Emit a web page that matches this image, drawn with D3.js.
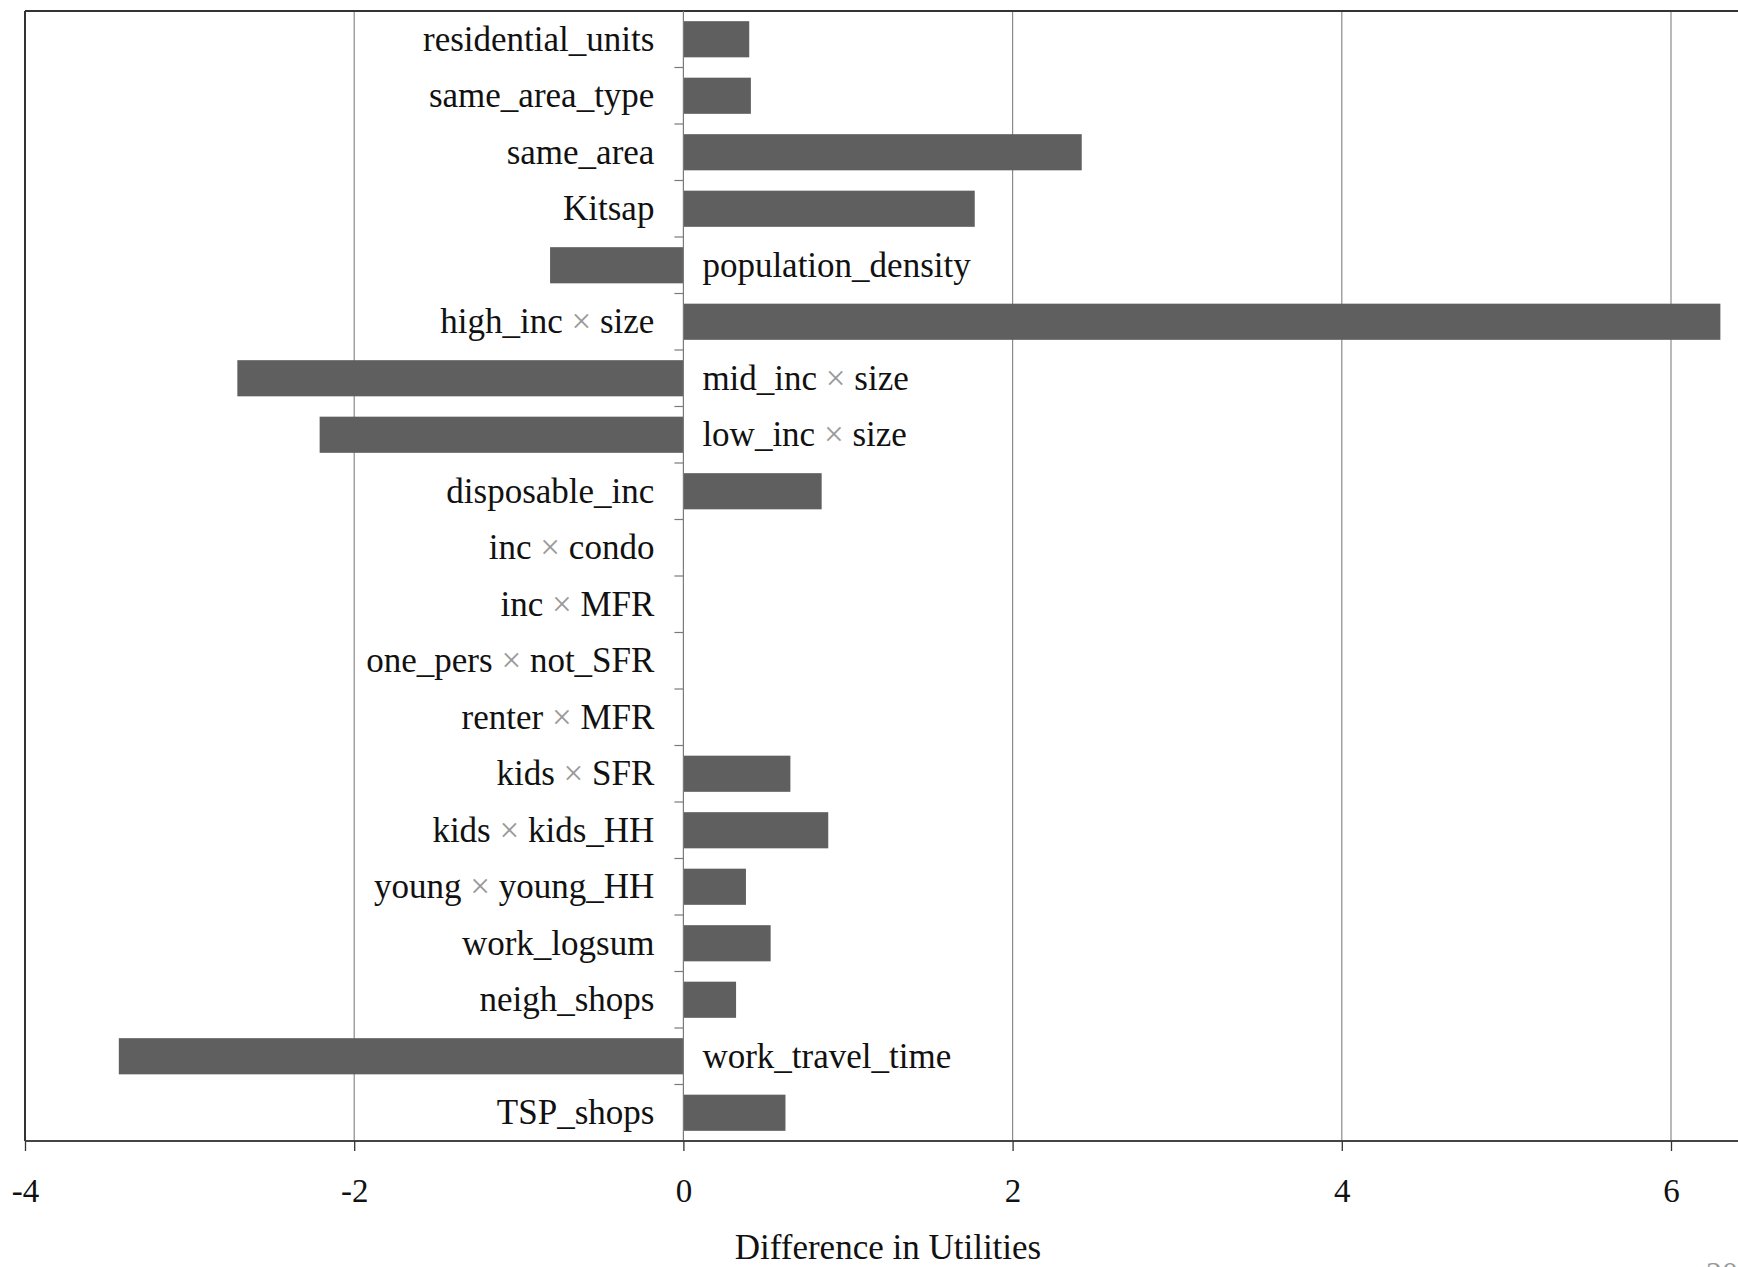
<!DOCTYPE html>
<html>
<head>
<meta charset="utf-8">
<script src="https://cdn.jsdelivr.net/npm/d3@7"></script>
<style>
  html, body { margin: 0; padding: 0; background: #fff; }
  svg { display: block; }
  text { font-family: "Liberation Serif", "Times New Roman", serif; }
</style>
</head>
<body>
<svg id="chart" width="1738" height="1267"></svg>
<script>
const categories = [
  "residential_units", "same_area_type", "same_area", "Kitsap", "population_density",
  "high_inc × size", "mid_inc × size", "low_inc × size", "disposable_inc", "inc × condo",
  "inc × MFR", "one_pers × not_SFR", "renter × MFR", "kids × SFR", "kids × kids_HH",
  "young × young_HH", "work_logsum", "neigh_shops", "work_travel_time", "TSP_shops"
];
const values = [
  0.40, 0.41, 2.42, 1.77, -0.81,
  6.30, -2.71, -2.21, 0.84, 0,
  0, 0, 0, 0.65, 0.88,
  0.38, 0.53, 0.32, -3.43, 0.62
];
const xTicks = [-4, -2, 0, 2, 4, 6];
const xTitle = "Difference in Utilities";
const pageNumber = "20";

(function draw() {
const svg = d3.select("#chart");
const mLeft = 25, mTop = 11, mBottom = 1141;
const x = d3.scaleLinear().domain([-4, 6]).range([mLeft, mLeft + 10 * 164.6]);
const y = d3.scaleBand().domain(categories).range([mTop, mBottom])
  .paddingInner(0.36).paddingOuter(0.18);

// gridlines
svg.append("g").selectAll("line").data(xTicks.filter(t => t !== 0 && t !== -4)).join("line")
  .attr("x1", d => x(d)).attr("x2", d => x(d))
  .attr("y1", mTop).attr("y2", mBottom)
  .attr("stroke", "#8a8a8a").attr("stroke-width", 1.2);

// frame: left & top
svg.append("line").attr("x1", mLeft).attr("x2", mLeft).attr("y1", mTop).attr("y2", mBottom)
  .attr("stroke", "#333").attr("stroke-width", 2);
svg.append("line").attr("x1", mLeft).attr("x2", 1738).attr("y1", mTop).attr("y2", mTop)
  .attr("stroke", "#333").attr("stroke-width", 2);

// bars
svg.append("g").selectAll("rect").data(categories).join("rect")
  .attr("x", (d, i) => x(Math.min(0, values[i])))
  .attr("width", (d, i) => Math.abs(x(values[i]) - x(0)))
  .attr("y", d => y(d))
  .attr("height", y.bandwidth())
  .attr("fill", "#5f5f5f");

// zero axis with ticks at band boundaries
svg.append("line").attr("x1", x(0)).attr("x2", x(0)).attr("y1", mTop).attr("y2", mBottom)
  .attr("stroke", "#7a7a7a").attr("stroke-width", 1.2);
const boundaries = categories.slice(1).map(c => y(c) - y.step() * y.paddingInner() / 2);
svg.append("g").selectAll("line").data(boundaries).join("line")
  .attr("x1", x(0) - 9).attr("x2", x(0))
  .attr("y1", d => d).attr("y2", d => d)
  .attr("stroke", "#7a7a7a").attr("stroke-width", 1.2);

// bottom axis
const xAxis = d3.axisBottom(x).tickValues(xTicks).tickSize(10).tickPadding(28)
  .tickFormat(d => d < 0 ? "-" + Math.abs(d) : String(d));
const gx = svg.append("g").attr("transform", `translate(0,${mBottom})`).call(xAxis);
gx.select(".domain").attr("d", `M${mLeft},0H1738`).attr("stroke", "#444").attr("stroke-width", 2.2);
gx.selectAll(".tick line").attr("stroke", "#333").attr("stroke-width", 1.3);
gx.selectAll(".tick text")
  .attr("font-size", 33).attr("fill", "#111")
  .style("font-family", '"Liberation Serif", serif');

// category labels
const lab = svg.append("g").selectAll("text").data(categories).join("text")
  .attr("x", (d, i) => values[i] < 0 ? x(0) + 19 : x(0) - 29)
  .attr("y", d => y(d) + y.bandwidth() / 2 - 1)
  .attr("dy", "0.35em")
  .attr("text-anchor", (d, i) => values[i] < 0 ? "start" : "end")
  .attr("font-size", 35)
  .attr("fill", "#111");
lab.each(function(d) {
  const parts = d.split(" × ");
  const t = d3.select(this);
  parts.forEach((p, k) => {
    if (k > 0) t.append("tspan").attr("fill", "#9a9a9a").text(" × ");
    t.append("tspan").text(p);
  });
});

// axis title
svg.append("text").attr("x", 888).attr("y", 1259).attr("text-anchor", "middle")
  .attr("font-size", 35).attr("fill", "#111").text(xTitle);

// page number (cut off at the bottom edge, as in the reference)
svg.append("text").attr("x", 1706).attr("y", 1284).attr("font-size", 32)
  .attr("fill", "#999").text(pageNumber);
})();
</script>
</body>
</html>
